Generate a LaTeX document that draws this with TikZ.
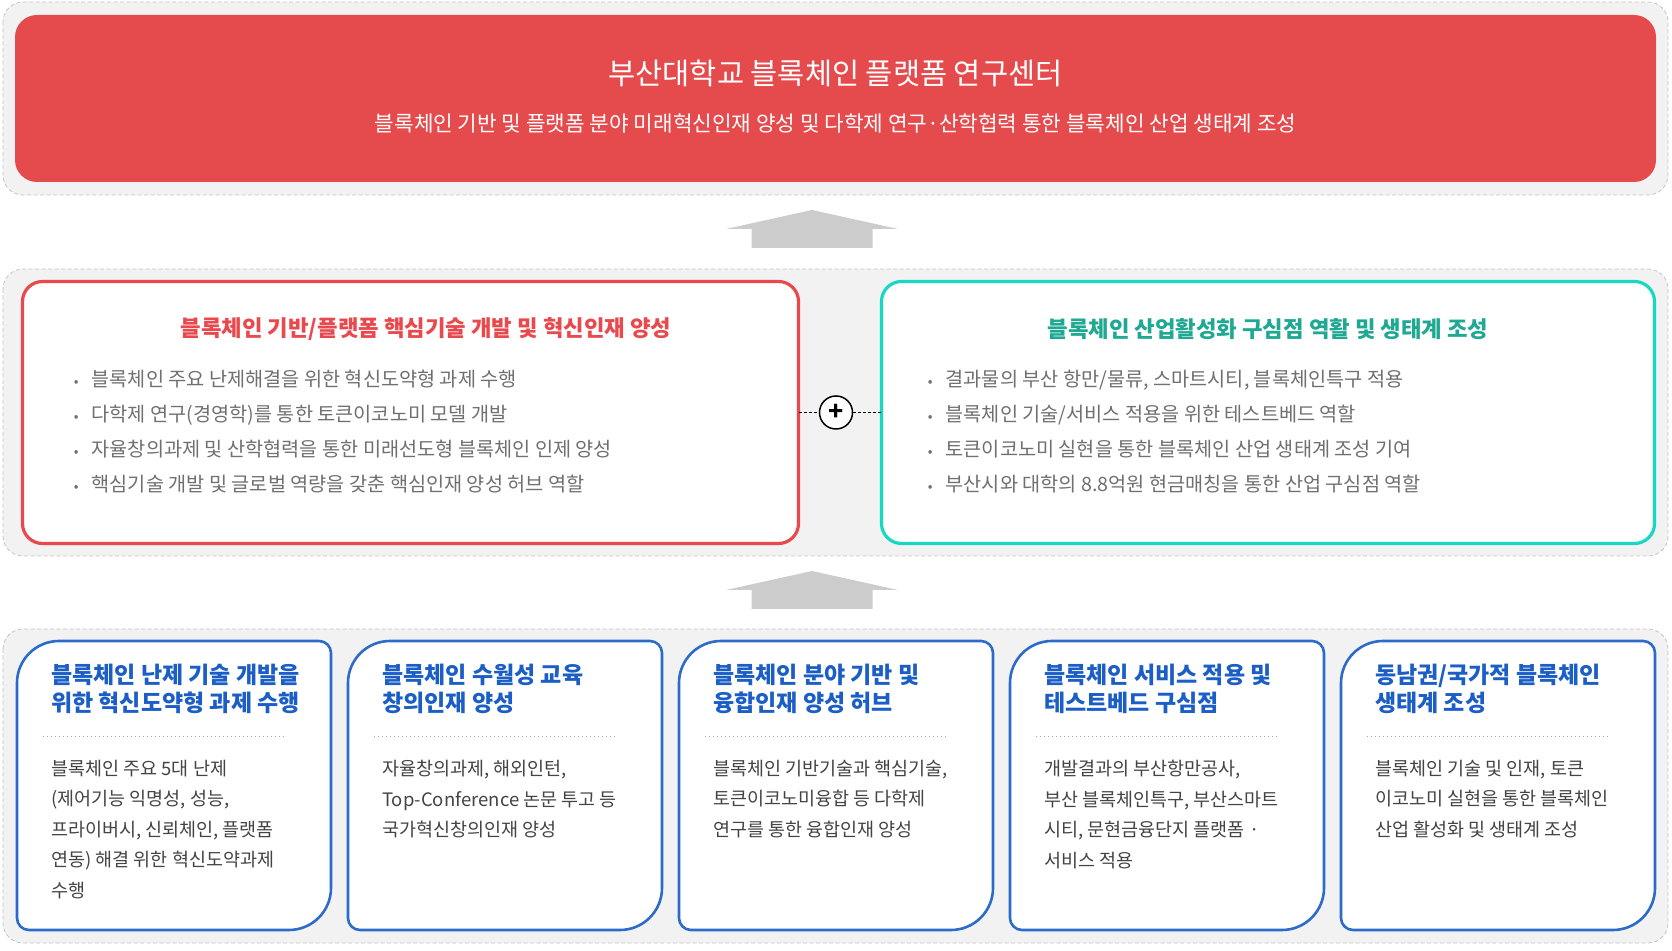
\documentclass[tikz,border=0pt]{standalone}
\usepackage{fontspec}
\setmainfont{Noto Sans CJK KR}
\usetikzlibrary{positioning}

\definecolor{panelgray}{HTML}{F2F2F2}
\definecolor{panelline}{HTML}{C4C4C4}
\definecolor{bannerred}{HTML}{E54B4C}
\definecolor{corered}{HTML}{E9484D}
\definecolor{hubteal}{HTML}{18D8C4}
\definecolor{hubtext}{HTML}{1FA892}
\definecolor{cardblue}{HTML}{2C6BCA}
\definecolor{cardtext}{HTML}{1B5EC6}
\definecolor{arrowgray}{HTML}{CCCCCC}
\definecolor{listgray}{HTML}{707070}
\definecolor{bodygray}{HTML}{444444}

\newcommand\listdot{\llap{\raisebox{0pt}{\fontsize{14}{14}\selectfont •}\hspace{13pt}}}

\begin{document}
\begin{tikzpicture}[x=1pt,y=1pt,
    panel/.style={draw=panelline,fill=panelgray,line width=0.8pt,dash pattern=on 4pt off 2.5pt,rounded corners=20pt},
    banner/.style={fill=bannerred,rounded corners=22pt,minimum width=1641pt,minimum height=167pt,inner sep=0pt,outer sep=0pt},
    bannertitle/.style={text=white,font=\fontsize{29.5}{34}\selectfont},
    bannersub/.style={text=white,font=\fontsize{21.3}{25}\selectfont},
    goalbox/.style={draw,fill=white,line width=3.2pt,rounded corners=20pt,minimum width=776pt,minimum height=262pt,inner sep=0pt,outer sep=0pt},
    goaltitle/.style={font=\bfseries\fontsize{22.3}{26}\selectfont},
    goallist/.style={anchor=north west,align=left,inner sep=0pt,text=listgray,font=\fontsize{19.7}{35}\selectfont},
    plussign/.style={circle,draw=black,fill=white,line width=1.5pt,minimum size=33pt,inner sep=0pt,font=\bfseries\fontsize{25}{25}\selectfont},
    link/.style={draw=black,line width=0.9pt,dash pattern=on 3pt off 2pt},
    card/.style={minimum width=314pt,minimum height=289pt,inner sep=0pt,outer sep=0pt},
    cardline/.style={draw=cardblue,fill=white,line width=2.6pt},
    cardtitle/.style={anchor=north west,align=left,inner sep=0pt,text=cardtext,font=\bfseries\fontsize{23}{27.5}\selectfont},
    cardbody/.style={anchor=north west,align=left,inner sep=0pt,text=bodygray,font=\fontsize{18.5}{30.5}\selectfont},
    cardrule/.style={draw=gray!70,line width=1pt,dash pattern=on 1pt off 3pt},
    uparrow/.style={fill=arrowgray}
  ]
\useasboundingbox (0,0) rectangle (1672,950);

% three levels
\draw[panel] (3,948) rectangle (1668,755);
\draw[panel] (3,681) rectangle (1668,394);
\draw[panel] (3,321) rectangle (1668,7);

% top banner
\node[banner] (center) at (835.5,851.5) {};
\node[bannertitle] (centertitle) at ([yshift=25.5pt]center.center) {부산대학교 블록체인 플랫폼 연구센터};
\node[bannersub] (centersub) at ([yshift=-24.5pt]center.center) {블록체인 기반 및 플랫폼 분야 미래혁신인재 양성 및 다학제 연구·산학협력 통한 블록체인 산업 생태계 조성};

% block arrows between levels
\coordinate (up1) at (812,702);
\coordinate (up2) at (812,341);
\foreach \a in {up1,up2}
  \fill[uparrow] ([shift={(-60.5,0)}]\a) -- ([shift={(-60.5,19)}]\a) -- ([shift={(-86,19)}]\a)
    -- ([shift={(0,38)}]\a) -- ([shift={(86,19)}]\a) -- ([shift={(60.5,19)}]\a) -- ([shift={(60.5,0)}]\a) -- cycle;

% middle level
\node[goalbox,draw=corered,minimum width=776pt] (core) at (410.5,537.5) {};
\node[goalbox,draw=hubteal,minimum width=773pt] (hub) at (1268,537.5) {};
\node[plussign] (plus) at (836,537.5) {+};
\draw[link] (core) -- (plus);
\draw[link] (plus) -- (hub);

\node[goaltitle,text=corered] (coretitle) at ([xshift=15.5pt,yshift=83.5pt]core.center) {블록체인 기반/플랫폼 핵심기술 개발 및 혁신인재 양성};
\node[goallist] (corelist) at ([xshift=69pt,yshift=-88pt]core.north west) {\listdot 블록체인 주요 난제해결을 위한 혁신도약형 과제 수행\\
  \listdot 다학제 연구(경영학)를 통한 토큰이코노미 모델 개발\\
  \listdot 자율창의과제 및 산학협력을 통한 미래선도형 블록체인 인제 양성\\
  \listdot 핵심기술 개발 및 글로벌 역량을 갖춘 핵심인재 양성 허브 역할};

\node[goaltitle,text=hubtext] (hubtitle) at ([yshift=83.5pt]hub.center) {블록체인 산업활성화 구심점 역활 및 생태계 조성};
\node[goallist] (hublist) at ([xshift=64pt,yshift=-88pt]hub.north west) {\listdot 결과물의 부산 항만/물류, 스마트시티, 블록체인특구 적용\\
  \listdot 블록체인 기술/서비스 적용을 위한 테스트베드 역할\\
  \listdot 토큰이코노미 실현을 통한 블록체인 산업 생태계 조성 기여\\
  \listdot 부산시와 대학의 8.8억원 현금매칭을 통한 산업 구심점 역할};

% bottom level
\node[card] (c1) at (174,164.5) {};
\node[card] (c2) [right=17pt of c1] {};
\node[card] (c3) [right=17pt of c2] {};
\node[card] (c4) [right=17pt of c3] {};
\node[card] (c5) [right=17pt of c4] {};

\foreach \c in {c1,c2,c3,c4,c5}
  \filldraw[cardline] ([yshift=-42pt]\c.north west) arc[start angle=180,end angle=90,radius=42pt]
    -- ([xshift=-12pt]\c.north east) arc[start angle=90,end angle=0,radius=12pt]
    -- ([yshift=42pt]\c.south east) arc[start angle=0,end angle=-90,radius=42pt]
    -- ([xshift=12pt]\c.south west) arc[start angle=270,end angle=180,radius=12pt]
    -- cycle;

\node[cardtitle] (c1title) at ([xshift=34pt,yshift=-23pt]c1.north west) {블록체인 난제 기술 개발을\\위한 혁신도약형 과제 수행};
\draw[cardrule] ([xshift=26pt,yshift=-96pt]c1.north west) -- ([xshift=267pt,yshift=-96pt]c1.north west);
\node[cardbody] (c1body) at ([xshift=34pt,yshift=-119pt]c1.north west) {블록체인 주요 5대 난제\\(제어기능 익명성, 성능,\\프라이버시, 신뢰체인, 플랫폼\\연동) 해결 위한 혁신도약과제\\수행};

\node[cardtitle] (c2title) at ([xshift=34pt,yshift=-23pt]c2.north west) {블록체인 수월성 교육\\창의인재 양성};
\draw[cardrule] ([xshift=26pt,yshift=-96pt]c2.north west) -- ([xshift=267pt,yshift=-96pt]c2.north west);
\node[cardbody] (c2body) at ([xshift=34pt,yshift=-119pt]c2.north west) {자율창의과제, 해외인턴,\\Top-Conference 논문 투고 등\\국가혁신창의인재 양성};

\node[cardtitle] (c3title) at ([xshift=34pt,yshift=-23pt]c3.north west) {블록체인 분야 기반 및\\융합인재 양성 허브};
\draw[cardrule] ([xshift=26pt,yshift=-96pt]c3.north west) -- ([xshift=267pt,yshift=-96pt]c3.north west);
\node[cardbody] (c3body) at ([xshift=34pt,yshift=-119pt]c3.north west) {블록체인 기반기술과 핵심기술,\\토큰이코노미융합 등 다학제\\연구를 통한 융합인재 양성};

\node[cardtitle] (c4title) at ([xshift=34pt,yshift=-23pt]c4.north west) {블록체인 서비스 적용 및\\테스트베드 구심점};
\draw[cardrule] ([xshift=26pt,yshift=-96pt]c4.north west) -- ([xshift=267pt,yshift=-96pt]c4.north west);
\node[cardbody] (c4body) at ([xshift=34pt,yshift=-119pt]c4.north west) {개발결과의 부산항만공사,\\부산 블록체인특구, 부산스마트\\시티, 문현금융단지 플랫폼 ·\\서비스 적용};

\node[cardtitle] (c5title) at ([xshift=34pt,yshift=-23pt]c5.north west) {동남권/국가적 블록체인\\생태계 조성};
\draw[cardrule] ([xshift=26pt,yshift=-96pt]c5.north west) -- ([xshift=267pt,yshift=-96pt]c5.north west);
\node[cardbody] (c5body) at ([xshift=34pt,yshift=-119pt]c5.north west) {블록체인 기술 및 인재, 토큰\\이코노미 실현을 통한 블록체인\\산업 활성화 및 생태계 조성};
\end{tikzpicture}
\end{document}
